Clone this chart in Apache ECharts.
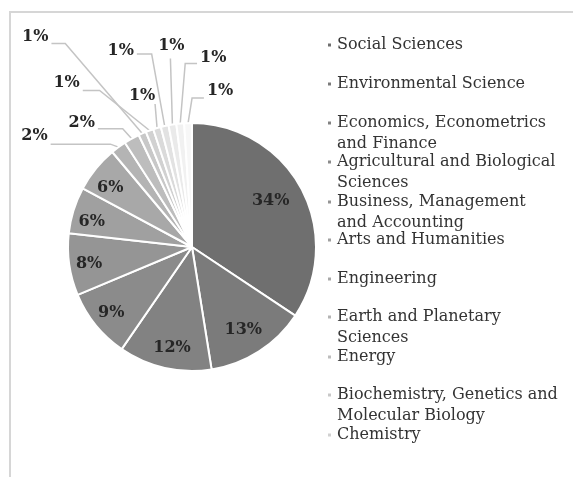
<!DOCTYPE html>
<html>
<head>
<meta charset="utf-8">
<script src="https://cdn.jsdelivr.net/npm/echarts@6/dist/echarts.min.js"></script>
<style>
html,body{margin:0;padding:0;background:#fff;}
#chart{width:573px;height:477px;}
</style>
</head>
<body>
<div id="chart"></div>
<script>
// ---- data ----
const categories = [
  'Social Sciences',
  'Environmental Science',
  'Economics, Econometrics and Finance',
  'Agricultural and Biological Sciences',
  'Business, Management and Accounting',
  'Arts and Humanities',
  'Engineering',
  'Earth and Planetary Sciences',
  'Energy',
  'Biochemistry, Genetics and Molecular Biology',
  'Chemistry',
  'Other 1', 'Other 2', 'Other 3', 'Other 4', 'Other 5'
];
const values = [34, 13, 12, 9, 8, 6, 6, 2, 2, 1, 1, 1, 1, 1, 1, 1];
const legendCount = 11;

// ---- styles ----
const colors = ['#6f6f6f', '#7b7b7b', '#828282', '#8b8b8b', '#959595', '#a0a0a0', '#a8a8a8',
  '#b4b4b4', '#bdbdbd', '#c8c8c8', '#d1d1d1', '#dadada', '#e2e2e2', '#eaeaea', '#f1f1f1', '#f7f7f7'];
const legendBreaks = {
  'Economics, Econometrics and Finance': ['Economics, Econometrics', 'and Finance'],
  'Agricultural and Biological Sciences': ['Agricultural and Biological', 'Sciences'],
  'Business, Management and Accounting': ['Business, Management', 'and Accounting'],
  'Earth and Planetary Sciences': ['Earth and Planetary', 'Sciences'],
  'Biochemistry, Genetics and Molecular Biology': ['Biochemistry, Genetics and', 'Molecular Biology']
};
const legendRowCenters = [45, 84, 123, 162, 202, 240, 279, 317, 357, 395, 435];
const LH = 21;
// outer label placement relative to the slice edge anchor: [labelDx, labelDy, bendDx, bendDy]
const outerOffsets = {
  7: [-84, -11, -8, -3],
  8: [-50, -16, -9, -10],
  9: [-107, -97, -77, -90],
  10: [-83, -48, -50, -40],
  11: [-15, -32, -2, -24],
  12: [-44, -75, -13, -72],
  13: [-1, -79, -2, -66],
  14: [33, -66, 5, -60],
  15: [32, -32, 4, -25]
};
// inner label nudges [dx, dy]
const innerNudges = { 0: [-13, 3], 1: [-5, -5], 2: [3, -1], 4: [0, 2], 5: [-1, 6], 6: [-1, 6] };
const FIRST_OUTER = 7;

const center = [192, 247];
const labelFont = { fontFamily: 'DejaVu Serif', fontWeight: 'bold', fontSize: 16, color: '#262626' };

const mainData = categories.map((n, i) => ({
  name: n, value: values[i],
  itemStyle: { color: colors[i] },
  label: { show: i >= FIRST_OUTER },
  labelLine: { show: i >= FIRST_OUTER }
}));
const innerData = categories.map((n, i) => ({
  name: n, value: values[i],
  label: { show: i < FIRST_OUTER }
}));

const legends = categories.slice(0, legendCount).map((n, i) => {
  const two = !!legendBreaks[n];
  return {
    orient: 'vertical',
    left: 326,
    top: two ? legendRowCenters[i] - 1.5 * LH : legendRowCenters[i] - LH / 2,
    padding: 0,
    icon: 'rect',
    itemWidth: 5,
    itemHeight: 5,
    selectedMode: false,
    data: [n],
    formatter: function (name) {
      return legendBreaks[name] ? '\u00a0\n' + legendBreaks[name].join('\n') : name;
    },
    textStyle: { fontFamily: 'DejaVu Serif', fontSize: 16, lineHeight: LH, color: '#333333' }
  };
});

const chart = echarts.init(document.getElementById('chart'), null, { renderer: 'canvas' });
chart.setOption({
  animation: false,
  backgroundColor: '#ffffff',
  graphic: [{
    type: 'polyline', silent: true,
    shape: { points: [[10, 600], [10, 12], [700, 12]] },
    style: { fill: 'none', stroke: '#d6d6d6', lineWidth: 2 }
  }],
  legend: legends,
  series: [{
    type: 'pie',
    center: center,
    radius: [0, 124],
    startAngle: 90,
    clockwise: true,
    avoidLabelOverlap: false,
    silent: true,
    itemStyle: { borderColor: '#ffffff', borderWidth: 2 },
    label: Object.assign({ position: 'outside', formatter: p => p.value + '%' }, labelFont),
    labelLine: { show: true, length: 10, length2: 10, lineStyle: { color: '#c4c4c4', width: 1.5 } },
    labelLayout: function (params) {
      const o = outerOffsets[params.dataIndex];
      if (!o || !params.labelLinePoints) return {};
      const a = params.labelLinePoints[0];
      const lx = a[0] + o[0], ly = a[1] + o[1];
      const bx = a[0] + o[2], by = a[1] + o[3];
      const hw = params.labelRect.width / 2;
      let end;
      if (lx < bx - 15) end = [lx + hw + 3, by];
      else if (lx > bx + 15) end = [lx - hw - 3, by];
      else end = [bx, by];
      return {
        x: lx, y: ly, align: 'center', verticalAlign: 'middle',
        labelLinePoints: [a, [bx, by], end]
      };
    },
    data: mainData
  }, {
    type: 'pie',
    center: center,
    radius: [78, 124],
    startAngle: 90,
    clockwise: true,
    silent: true,
    itemStyle: { color: 'rgba(0,0,0,0)', borderWidth: 0 },
    label: Object.assign({ position: 'inside', formatter: p => p.value + '%' }, labelFont),
    labelLine: { show: false },
    labelLayout: function (params) {
      const d = innerNudges[params.dataIndex];
      return d ? { dx: d[0], dy: d[1] } : {};
    },
    data: innerData
  }]
});
</script>
</body>
</html>
